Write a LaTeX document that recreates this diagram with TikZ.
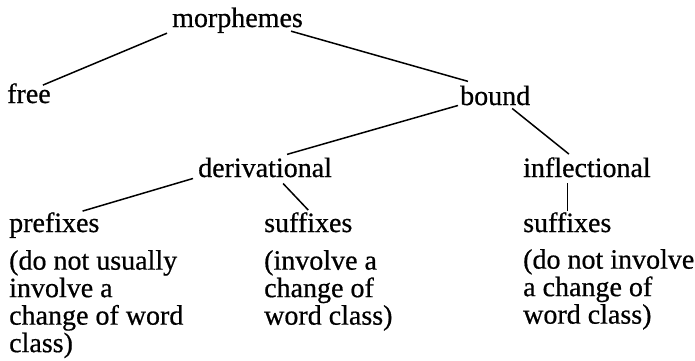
\documentclass[tikz,border=0pt]{standalone}
\usepackage{fontspec}
\setmainfont{Liberation Serif}[FakeBold=0.6]
\usetikzlibrary{positioning,calc}
\tikzset{
word/.style={inner sep=0pt, anchor=base west, font=\fontsize{28}{27.5}\selectfont},
gloss/.style={word, align=left, anchor=north west},
branch/.style={line width=1.5pt}
}

\begin{document}
\begin{tikzpicture}[x=1pt, y=-1pt]
  \useasboundingbox (0,0) rectangle (695,360);

  \node[word] (morph) at (172,27) {morphemes};
  \node[word] (free) at (7,103) {free};
  \node[word] (bound) at (460,105) {bound};
  \node[word] (deriv) at (198,177) {derivational};
  \node[word] (infl) at (523,177) {inflectional};
  \node[word] (pref) at (9,232) {prefixes};
  \node[word] (suffA) at (264,232) {suffixes};
  \node[word] (suffB) at (523,232) {suffixes};

  \node[gloss] (glossA) at (9,250) {(do not usually\\involve a\\change of word\\class)};
  \node[gloss] (glossB) at (264,250) {(involve a\\change of\\word class)};
  \node[gloss] (glossC) at (523,249) {(do not involve\\a change of\\word class)};

  \draw[branch] ([xshift=-5pt]morph.south west) -- ([xshift=-8pt,yshift=-2pt]free.north east);
  \draw[branch] ([xshift=-12pt,yshift=2pt]morph.south east) -- ([xshift=8pt,yshift=4pt]bound.north west);
  \draw[branch] ([xshift=-2pt]bound.south west) -- ([xshift=22pt,yshift=3pt]deriv.north);
  \draw[branch] ([xshift=17pt,yshift=-3pt]bound.south) -- ([xshift=-18pt,yshift=3pt]infl.north);
  \draw[branch] ([xshift=-5pt,yshift=-1pt]deriv.south west) -- ([xshift=-17pt,yshift=1pt]pref.north east);
  \draw[branch] ([xshift=18pt,yshift=-6pt]deriv.south) -- ([yshift=2pt]suffA.north);
  \draw[branch] ([yshift=1pt]suffB.north) -- ($(suffB.north |- infl.south)+(0,6)$);
\end{tikzpicture}
\end{document}
